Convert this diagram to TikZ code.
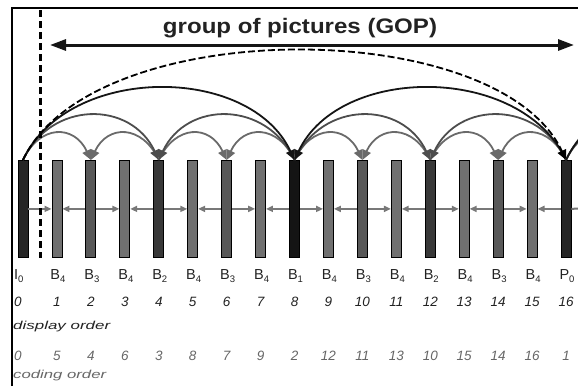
\documentclass[tikz,border=0pt]{standalone}
\usepackage{fontspec}
\setmainfont{Liberation Sans}
\usetikzlibrary{arrows.meta}
\definecolor{cI}{HTML}{262626}
\definecolor{cOne}{HTML}{141414}
\definecolor{cTwo}{HTML}{383838}
\definecolor{cThree}{HTML}{585858}
\definecolor{cFour}{HTML}{707070}
\definecolor{arcgray}{HTML}{6A6A6A}
\definecolor{arcmid}{HTML}{4D4D4D}
\definecolor{arcdark}{HTML}{151515}
\definecolor{hline}{HTML}{787878}
\definecolor{txt}{HTML}{222222}
\definecolor{cgray}{HTML}{666666}
\newcommand\fsub[1]{\raisebox{-3pt}{\fontsize{9.5}{9.5}\selectfont #1}}
\begin{document}
\begin{tikzpicture}[x=1pt,y=1pt,
  bar/.style={rectangle, draw=black, line width=0.8pt, minimum width=10pt, minimum height=97pt, inner sep=0pt, anchor=north},
  lab/.style={inner sep=0pt, anchor=base, text=txt, font=\fontsize{14.5}{14.5}\selectfont},
  dnum/.style={inner sep=0pt, anchor=base, text=txt, font=\fontsize{13.5}{13.5}\selectfont\itshape},
  cnum/.style={inner sep=0pt, anchor=base, text=cgray, font=\fontsize{13.5}{13.5}\selectfont\itshape},
  toR/.style={out=65, in=115},
  toL/.style={out=115, in=65},
  tip/.style={-{Triangle[length=10pt,width=9pt]}},
  arcA/.style={draw=arcgray, line width=1.8pt, looseness=1.49, tip},
  arcB/.style={draw=arcmid, line width=1.8pt, looseness=1.245, tip},
  arcC/.style={draw=arcdark, line width=1.8pt, looseness=1.0, tip},
  arcD/.style={draw=black, line width=1.8pt, dash pattern=on 7pt off 3pt, looseness=0.76, tip},
  hl/.style={draw=hline, line width=2pt, -{Triangle[length=7pt,width=6pt]}},
  note/.style={inner sep=0pt, anchor=base west, font=\fontsize{11.5}{11.5}\selectfont\itshape}
]
\useasboundingbox (0,0) rectangle (578,-386);
% frame
\coordinate (bl) at (12,-386);
\coordinate (tl) at (12,-7.5);
\coordinate (tr) at (578,-7.5);
\draw[line width=2pt, black] (bl) -- (tl) -- (tr);
% title and GOP arrow
\node[inner sep=0pt, anchor=base, text=txt] (title) at (300,-33)
  {\resizebox{274pt}{\height}{\fontsize{21}{21}\selectfont\bfseries group of pictures (GOP)}};
\coordinate (ga) at (50,-45);
\coordinate (gb) at (574,-45);
\draw[line width=3pt, color=arcdark, {Triangle[length=16pt,width=11pt]}-{Triangle[length=16pt,width=11pt]}] (ga) -- (gb);
% bars
\foreach \i/\c in {0/cI,1/cFour,2/cThree,3/cFour,4/cTwo,5/cFour,6/cThree,7/cFour,8/cOne,9/cFour,10/cThree,11/cFour,12/cTwo,13/cFour,14/cThree,15/cFour,16/cI}
  \node[bar, fill=\c] (f\i) at ({23+33.94*\i},-160) {};
% labels
\node[lab, anchor=base west] (l0) at (14,-279) {I\fsub{0}};
\node[dnum, anchor=base west] (d0) at (14,-306) {0};
\node[cnum, anchor=base west] (c0) at (14,-360) {0};
\foreach \i/\t/\s/\k in {1/B/4/5,2/B/3/4,3/B/4/6,4/B/2/3,5/B/4/8,6/B/3/7,7/B/4/9,8/B/1/2,9/B/4/12,10/B/3/11,11/B/4/13,12/B/2/10,13/B/4/15,14/B/3/14,15/B/4/16,16/P/0/1}{
  \node[lab] (l\i) at ({24+33.94*\i},-279) {\t\fsub{\s}};
  \node[dnum] (d\i) at ({23+33.94*\i},-306) {\i};
  \node[cnum] (c\i) at ({23+33.94*\i},-360) {\k};
}
\node[note, text=txt] (disp) at (13,-329) {\resizebox{97pt}{\height}{display order}};
\node[note, text=cgray] (cod) at (13,-378) {\resizebox{93pt}{\height}{coding order}};
% horizontal references of B4 frames
\foreach \k [evaluate=\k as \p using int(\k-1), evaluate=\k as \n using int(\k+1)] in {1,3,5,7,9,11,13,15}{
  \draw[hl] (f\p.east) -- (f\k.west);
  \draw[hl] (f\n.west) -- (f\k.east);
}
\coordinate (hr) at (578,-208.5);
\draw[draw=hline, line width=2pt] (f16.east) -- (hr);
% hierarchical arcs
\draw[arcA,toR] (f0.north) to (f2.north);
\draw[arcA,toL] (f4.north) to (f2.north);
\draw[arcA,toR] (f4.north) to (f6.north);
\draw[arcA,toL] (f8.north) to (f6.north);
\draw[arcA,toR] (f8.north) to (f10.north);
\draw[arcA,toL] (f12.north) to (f10.north);
\draw[arcA,toR] (f12.north) to (f14.north);
\draw[arcA,toL] (f16.north) to (f14.north);
\draw[arcB,toR] (f0.north) to (f4.north);
\draw[arcB,toL] (f8.north) to (f4.north);
\draw[arcB,toR] (f8.north) to (f12.north);
\draw[arcB,toL] (f16.north) to (f12.north);
\draw[arcC,toR] (f0.north) to (f8.north);
\draw[arcC,toL] (f16.north) to (f8.north);
\draw[arcD,toR] (f0.north) to (f16.north);
% arcs into the next GOP (clipped)
\coordinate (n18) at ({23+33.94*18},-160);
\coordinate (n20) at ({23+33.94*20},-160);
\coordinate (n24) at ({23+33.94*24},-160);
\begin{scope}
\clip (0,0) rectangle (578,-386);
\draw[arcA,toR] (f16.north) to (n18);
\draw[arcB,toR] (f16.north) to (n20);
\draw[arcC,toR] (f16.north) to (n24);
\end{scope}
% GOP boundary
\coordinate (vt) at (40,-10);
\coordinate (vb) at (40,-258);
\draw[black, line width=3pt, dash pattern=on 7pt off 4pt] (vt) -- (vb);
\end{tikzpicture}
\end{document}
